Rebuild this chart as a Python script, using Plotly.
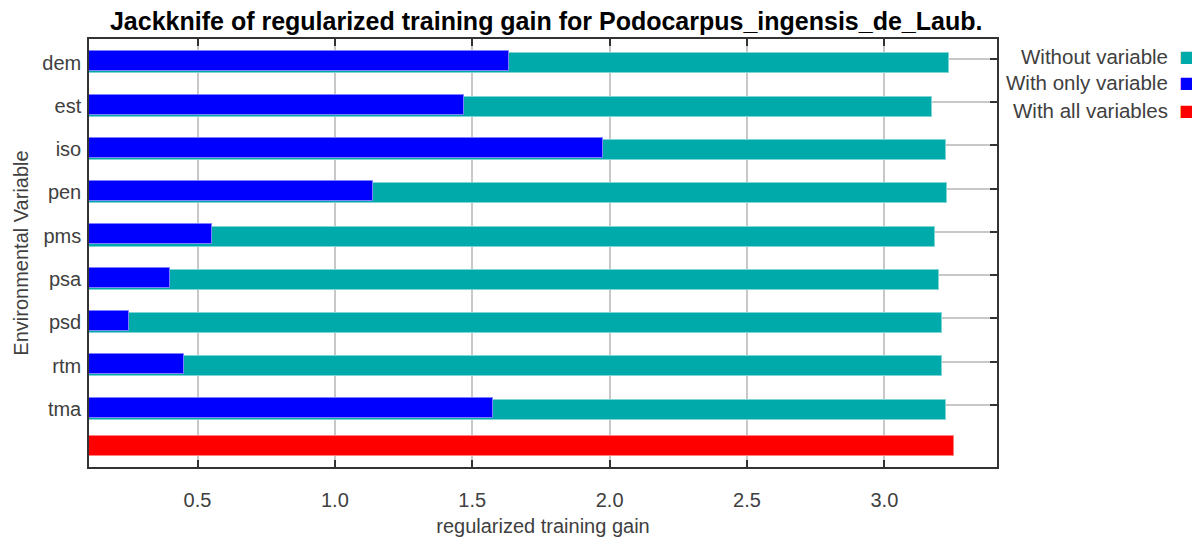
import plotly.graph_objects as go

# Jackknife values
variables = ["dem", "est", "iso", "pen", "pms", "psa", "psd", "rtm", "tma"]
without_variable = [3.236, 3.175, 3.223, 3.229, 3.185, 3.198, 3.211, 3.211, 3.223]
with_only_variable = [1.632, 1.471, 1.977, 1.138, 0.551, 0.398, 0.249, 0.449, 1.576]
with_all_variables = [3.255]
x_ticks = [0.5, 1.0, 1.5, 2.0, 2.5, 3.0]
legend_names = ["Without variable", "With only variable", "With all variables"]
legend_colors = ["#00AAAA", "#0000FF", "#FF0000"]

pos = list(range(len(variables)))
pos_all = [len(variables)]
label_pos = [p + 0.09 for p in pos]   # category labels sit a little below the grid line
y_range = [9.433, -0.454]
font = "Liberation Sans, Arial, sans-serif"

fig = go.Figure()

fig.add_trace(go.Bar(
    y=pos, x=without_variable, orientation='h',
    width=0.46, offset=-0.12,
    marker=dict(color="#00AAAA", line=dict(color="#7FD4D4", width=1)),
    name=legend_names[0], showlegend=False
))

fig.add_trace(go.Bar(
    y=pos, x=with_only_variable, orientation='h',
    width=0.46, offset=-0.17,
    marker=dict(color="#0000FF", line=dict(color="#7F7FFF", width=1)),
    name=legend_names[1], showlegend=False
))

fig.add_trace(go.Bar(
    y=pos_all, x=with_all_variables, orientation='h',
    width=0.46, offset=-0.284,
    marker=dict(color="#FF0000", line=dict(color="#FF7F7F", width=1)),
    name=legend_names[2], showlegend=False
))

# empty trace so the right-hand tick axis gets drawn
fig.add_trace(go.Scatter(x=[None], y=[None], yaxis="y2", showlegend=False,
                         hoverinfo="skip"))

# the page body adds an 8px margin, so the figure is 8px smaller each way
fig.update_layout(
    title=dict(text="<b>Jackknife of regularized training gain for Podocarpus_ingensis_de_Laub.</b>",
               font=dict(size=25, color="black", family=font),
               x=0.4515, xanchor="center", y=0.976, yanchor="middle"),
    font=dict(family=font, color="#404040"),
    width=1192, height=538,
    margin=dict(l=79.5, r=203, t=31, b=65.3),
    plot_bgcolor="#fff",
    paper_bgcolor="#fff",
    barmode="overlay",
    bargap=0,
    showlegend=False,
)

fig.update_xaxes(
    range=[0.105, 3.41],
    tickvals=x_ticks,
    ticktext=["%.1f" % t for t in x_ticks],
    tickfont=dict(size=20, color="#404040"),
    ticks="inside", ticklen=7, tickwidth=1.5, tickcolor="#333",
    ticklabelstandoff=14,
    showline=True, linecolor="#333", linewidth=1.5, mirror="ticks",
    showgrid=True, gridcolor="#C8C8C8", gridwidth=1.5,
    zeroline=False,
    title=dict(text="regularized training gain", font=dict(size=20, color="#404040"),
               standoff=9),
)

fig.update_layout(
    yaxis=dict(
        range=y_range,
        tickvals=label_pos,
        ticktext=variables,
        tickfont=dict(size=20, color="#404040"),
        ticks="",
        ticklabelstandoff=2,
        showline=True, linecolor="#333", linewidth=1.5, mirror=True,
        showgrid=False,
        zeroline=False,
        title=dict(text="Environmental Variable", font=dict(size=20, color="#404040"),
                   standoff=8),
    ),
    yaxis2=dict(
        range=y_range,
        overlaying="y", side="right",
        tickvals=pos,
        ticks="inside", ticklen=7, tickwidth=1.5, tickcolor="#333",
        showticklabels=False, showline=False, zeroline=False,
        showgrid=True, gridcolor="#C8C8C8", gridwidth=1.5,
    ),
)

# legend drawn on the right: text first, colour square after it
legend_y = [0.959, 0.898, 0.832]
for name, color, ly in zip(legend_names, legend_colors, legend_y):
    fig.add_annotation(x=1.190, y=ly, xref="paper", yref="paper",
                       text=name, showarrow=False, xanchor="right", yanchor="middle",
                       font=dict(size=20.5, color="#404040", family=font))
    fig.add_annotation(x=1.209, y=ly, xref="paper", yref="paper",
                       text="■", showarrow=False, xanchor="center", yanchor="middle",
                       font=dict(size=16, color=color, family="DejaVu Sans"))

fig.write_html("out.html")
